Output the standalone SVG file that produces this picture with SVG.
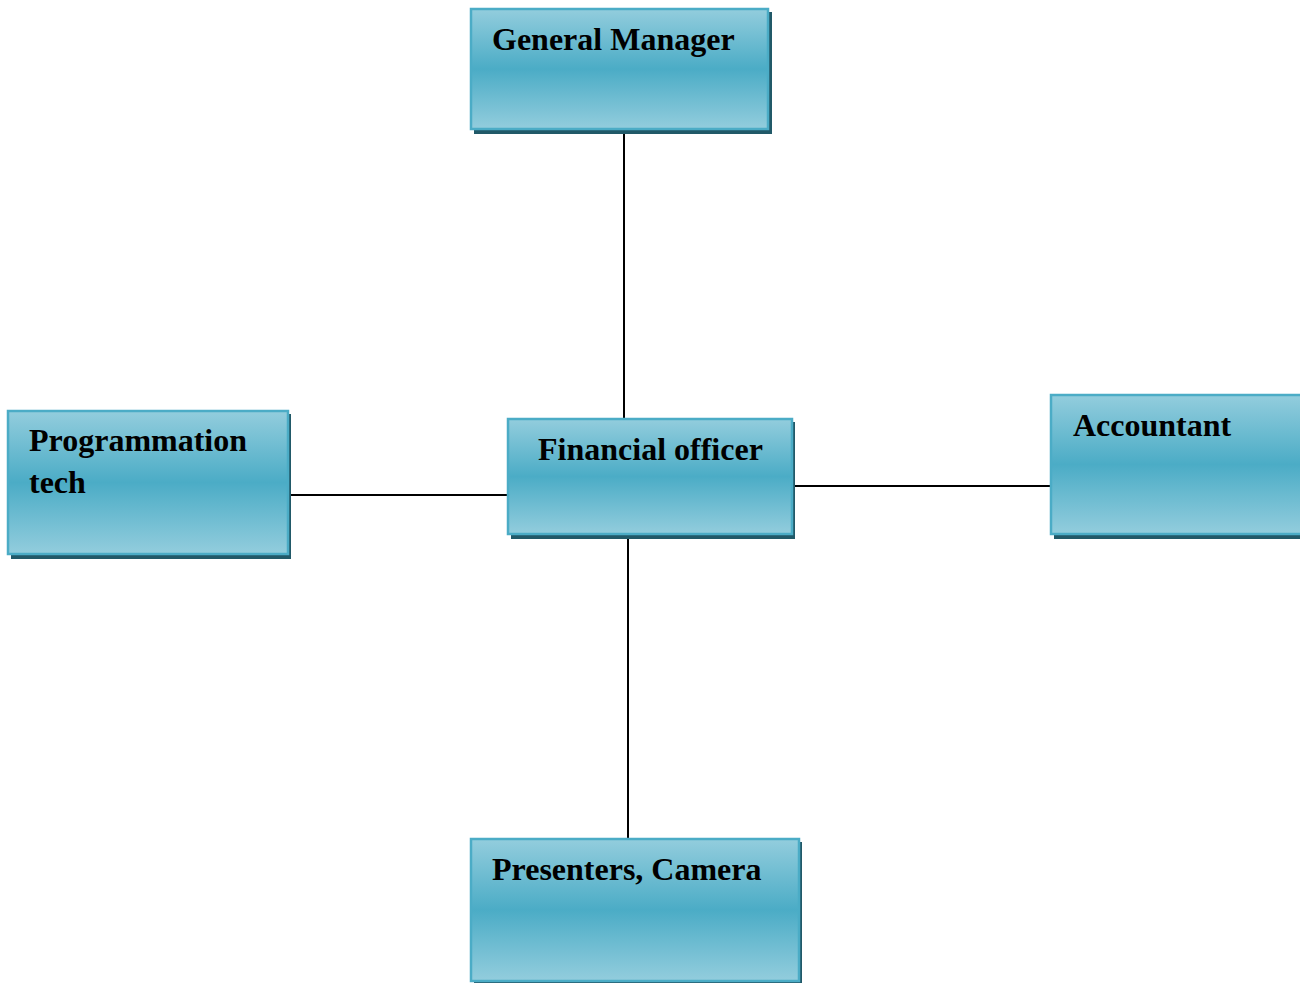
<svg xmlns="http://www.w3.org/2000/svg" width="1300" height="983" viewBox="0 0 1300 983">
<defs>
<linearGradient id="g" x1="0" y1="0" x2="0" y2="1">
<stop offset="0" stop-color="#93CDDD"/>
<stop offset="0.5" stop-color="#4BACC6"/>
<stop offset="1" stop-color="#93CDDD"/>
</linearGradient>
<style>
.sh{fill:#215968}
.bx{fill:url(#g);stroke:#4BACC6;stroke-width:2.5}
.t{font-family:"Liberation Serif","Times New Roman",serif;font-weight:bold;font-size:32px;fill:#000}
.c{stroke:#000;stroke-width:2;fill:none}
</style>
</defs>
<rect width="1300" height="983" fill="#fff"/>
<g id="connectors">
<line class="c" x1="624" y1="133" x2="624" y2="418"/>
<line class="c" x1="291" y1="495" x2="507" y2="495"/>
<line class="c" x1="795" y1="486" x2="1050" y2="486"/>
<line class="c" x1="628" y1="538" x2="628" y2="838"/>
</g>
<g id="general-manager">
<rect class="sh" x="474" y="12" width="298" height="122"/>
<rect class="bx" x="471" y="9" width="297" height="120"/>
<text class="t" x="492" y="50">General Manager</text>
</g>
<g id="programmation-tech">
<rect class="sh" x="11" y="414" width="280" height="145"/>
<rect class="bx" x="8" y="411" width="280" height="143"/>
<text class="t" x="29" y="451">Programmation</text>
<text class="t" x="29" y="493">tech</text>
</g>
<g id="financial-officer">
<rect class="sh" x="511" y="422" width="284" height="117"/>
<rect class="bx" x="508" y="419" width="284" height="115"/>
<text class="t" x="538" y="460">Financial officer</text>
</g>
<g id="accountant">
<rect class="sh" x="1054" y="398" width="250" height="141"/>
<rect class="bx" x="1051" y="395" width="252" height="139"/>
<text class="t" x="1073" y="436">Accountant</text>
</g>
<g id="presenters-camera">
<rect class="sh" x="474" y="842" width="328" height="150"/>
<rect class="bx" x="471" y="839" width="328" height="142"/>
<text class="t" x="492" y="880">Presenters, Camera</text>
</g>
</svg>
